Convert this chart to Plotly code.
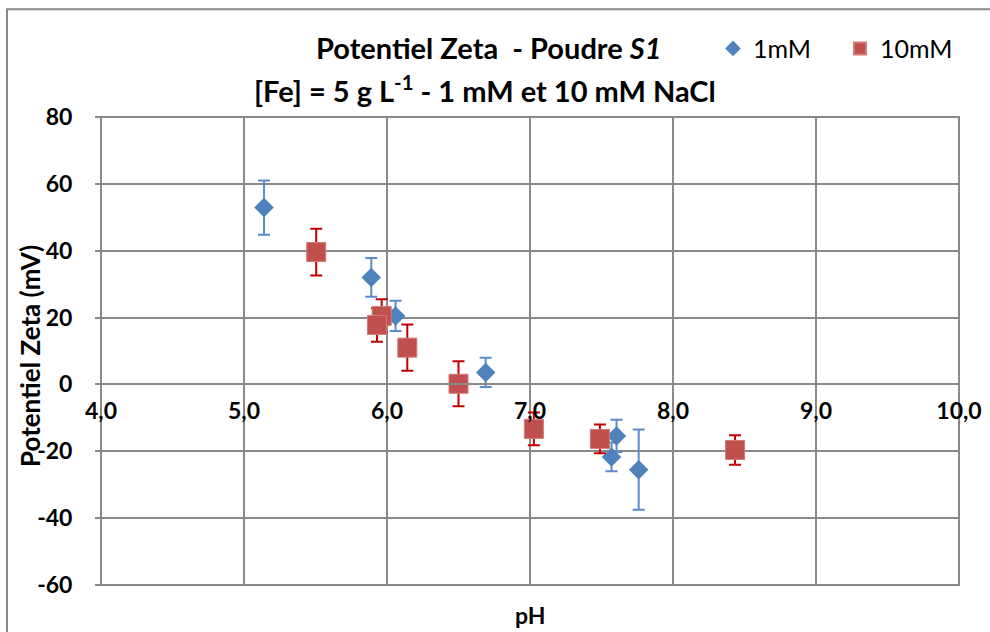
import plotly.graph_objects as go

# ---- data ----
ph_1mM = [5.14, 5.89, 6.06, 6.69, 7.605, 7.57, 7.76]
zeta_1mM = [52.9, 32.0, 20.5, 3.6, -15.4, -21.7, -25.5]
err_1mM = [8.1, 5.8, 4.5, 4.4, 4.8, 4.3, 12.0]

ph_10mM = [5.505, 5.963, 5.93, 6.142, 6.50, 7.027, 7.489, 8.434]
zeta_10mM = [39.6, 20.5, 17.8, 11.0, 0.2, -13.3, -16.3, -19.6]
err_10mM = [7.0, 5.0, 5.0, 6.9, 6.7, 4.9, 4.3, 4.4]

x_ticks = [4, 5, 6, 7, 8, 9, 10]
x_ticktext = ["4,0", "5,0", "6,0", "7,0", "8,0", "9,0", "10,0"]
y_ticks = [-60, -40, -20, 0, 20, 40, 60, 80]
y_ticktext = ["-60", "-40", "-20", "0", "20", "40", "60", "80"]

FONT = "Lato, 'Open Sans', sans-serif"
GRID = "#898989"

fig = go.Figure()
fig.add_trace(go.Scatter(
    x=ph_1mM, y=zeta_1mM, mode="markers", name="1mM",
    marker=dict(symbol="diamond", size=15, color="#4F81BD"),
    error_y=dict(type="data", array=err_1mM, visible=True,
                 color="#5A8BCB", thickness=2, width=6),
))
fig.add_trace(go.Scatter(
    x=ph_10mM, y=zeta_10mM, mode="markers", name="10mM",
    marker=dict(symbol="square", size=19, color="#C0504D",
                line=dict(color="#D07A78", width=1)),
    error_y=dict(type="data", array=err_10mM, visible=True,
                 color="#C00000", thickness=2, width=6),
))

W, H = 990, 632
# plot area in page pixels (body margin removed below)
PL, PR, PT, PB = 101, 959, 116.5, 585.5
pw = PR - PL
ph = PB - PT
L, T = PL, PT
R = W - L - pw
B = H - T - ph


def px(xp):
    return (xp - PL) / pw


def py(yp):
    return (PB - yp) / ph


fig.update_layout(
    width=W, height=H,
    margin=dict(l=L, r=R, t=T, b=B, autoexpand=False),
    paper_bgcolor="white", plot_bgcolor="white",
    font=dict(family=FONT, color="black"),
    showlegend=True,
    legend=dict(orientation="h", x=px(713), y=py(48), xanchor="left",
                yanchor="middle", font=dict(size=25, family=FONT),
                entrywidth=82, entrywidthmode="pixels",
                bgcolor="rgba(0,0,0,0)", itemsizing="constant"),
    xaxis=dict(range=[4, 10], tickvals=x_ticks, ticktext=x_ticktext,
               showgrid=True, gridcolor=GRID, gridwidth=2,
               zeroline=False, showline=True, linecolor=GRID, linewidth=2,
               anchor="free", position=60 / 140,
               tickfont=dict(size=23, family=FONT, color="black", weight="bold"),
               ticks="", ticklabelstandoff=6),
    yaxis=dict(range=[-60, 80], tickvals=y_ticks, ticktext=y_ticktext,
               showgrid=True, gridcolor=GRID, gridwidth=2,
               zeroline=False, showline=False,
               ticks="outside", ticklen=5, tickcolor=GRID, tickwidth=2,
               ticklabelstandoff=18,
               tickfont=dict(size=23, family=FONT, color="black", weight="bold")),
    shapes=[
        dict(type="rect", xref="paper", yref="paper", x0=0, x1=1, y0=0, y1=1,
             line=dict(color=GRID, width=2), layer="below"),
        dict(type="rect", xref="paper", yref="paper", x0=px(7), x1=px(1100),
             y0=py(700), y1=py(8.5), line=dict(color="#8a8a8a", width=2),
             layer="below"),
    ],
    annotations=[
        dict(text="<b>Potentiel Zeta\u00a0\u00a0- Poudre <i>S1</i></b>",
             xref="paper", yref="paper", x=px(489), y=py(47),
             xanchor="center", yanchor="middle", showarrow=False,
             font=dict(size=29, family=FONT)),
        dict(text="<b>[Fe] = 5 g L<sup>-1</sup> - 1 mM et 10 mM NaCl</b>",
             xref="paper", yref="paper", x=px(485), y=py(88),
             xanchor="center", yanchor="middle", showarrow=False,
             font=dict(size=29, family=FONT)),
        dict(text="<b>pH</b>", xref="paper", yref="paper", x=px(530), y=py(616),
             xanchor="center", yanchor="middle", showarrow=False,
             font=dict(size=23, family=FONT)),
        dict(text="<b>Potentiel Zeta (mV)</b>", xref="paper", yref="paper",
             x=px(30), y=py(356), xanchor="center", yanchor="middle",
             showarrow=False, textangle=-90, font=dict(size=26, family=FONT)),
    ],
)

fig.write_html(
    "out.html",
    config={"displayModeBar": False},
    post_script="document.body.style.margin='0px';"
                "document.body.style.overflow='hidden';",
)
